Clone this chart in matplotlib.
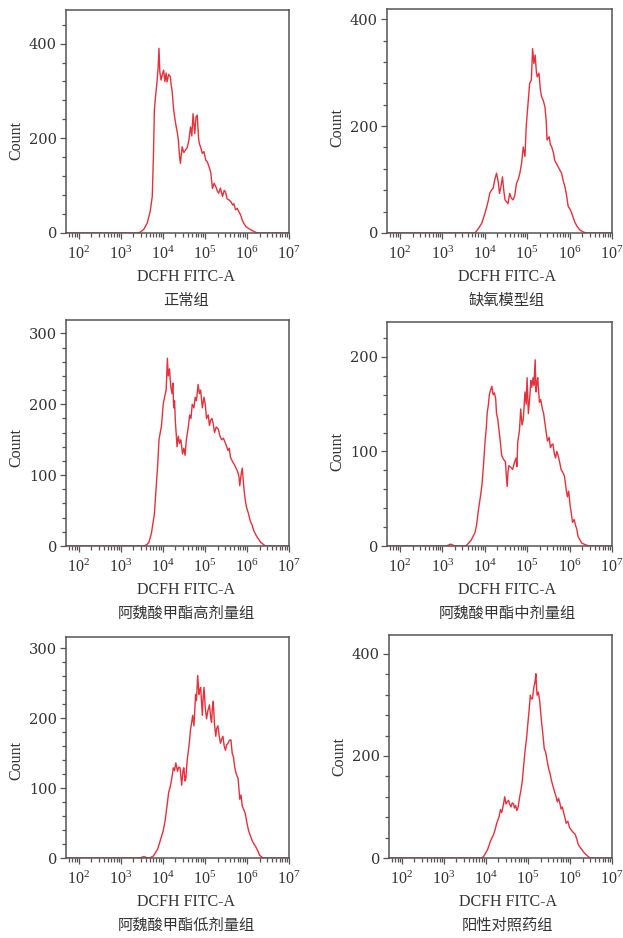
"""Flow cytometry DCFH histograms, six groups"""
import numpy as np
import matplotlib
matplotlib.use("Agg")
import matplotlib.pyplot as plt
from matplotlib.ticker import MultipleLocator, LogLocator, LogFormatterMathtext, NullFormatter

# log10(DCFH FITC-A) positions and counts
x_normal = [1.70, 3.40, 3.47, 3.55, 3.63, 3.70, 3.75, 3.78, 3.80, 3.83,
            3.86, 3.89, 3.91, 3.93, 3.96, 3.99, 4.02, 4.05, 4.08, 4.10,
            4.14, 4.18, 4.20, 4.22, 4.26, 4.29, 4.32, 4.35, 4.37, 4.40,
            4.42, 4.46, 4.50, 4.54, 4.58, 4.62, 4.66, 4.69, 4.72, 4.76,
            4.79, 4.82, 4.85, 4.87, 4.91, 4.94, 4.98, 5.02, 5.06, 5.10,
            5.14, 5.18, 5.22, 5.26, 5.30, 5.33, 5.37, 5.42, 5.46, 5.49,
            5.53, 5.57, 5.62, 5.66, 5.69, 5.73, 5.77, 5.81, 5.85, 5.89,
            5.93, 5.98, 6.05, 6.11, 6.17, 6.25, 7.00]
y_normal = [0, 0, 2, 8, 21, 45, 77, 170, 259, 290,
            316, 350, 390, 340, 323, 335, 344, 320, 338, 319,
            335, 330, 312, 302, 259, 240, 224, 210, 196, 160,
            147, 182, 170, 175, 180, 196, 224, 205, 252, 210,
            245, 249, 200, 189, 178, 168, 172, 154, 150, 140,
            128, 94, 105, 98, 88, 84, 95, 77, 90, 87,
            72, 70, 66, 59, 62, 49, 52, 45, 38, 27,
            20, 13, 9, 6, 3, 0, 0]

x_model = [1.70, 3.70, 3.77, 3.85, 3.93, 4.00, 4.05, 4.09, 4.12, 4.16,
           4.20, 4.24, 4.28, 4.32, 4.35, 4.38, 4.42, 4.45, 4.48, 4.52,
           4.55, 4.59, 4.63, 4.67, 4.71, 4.75, 4.79, 4.83, 4.87, 4.91,
           4.95, 4.98, 5.02, 5.06, 5.10, 5.13, 5.16, 5.19, 5.22, 5.24,
           5.28, 5.31, 5.34, 5.38, 5.42, 5.45, 5.47, 5.52, 5.55, 5.58,
           5.62, 5.65, 5.69, 5.73, 5.77, 5.81, 5.85, 5.89, 5.93, 5.97,
           6.01, 6.05, 6.09, 6.12, 6.18, 6.24, 6.32, 6.40, 7.00]
y_model = [0, 0, 0, 8, 18, 35, 49, 62, 74, 80,
           84, 100, 112, 96, 74, 85, 105, 80, 62, 58,
           55, 74, 65, 62, 70, 93, 100, 112, 130, 161,
           143, 200, 240, 280, 286, 345, 317, 333, 300, 292,
           299, 270, 255, 248, 236, 210, 174, 180, 165, 161,
           150, 136, 130, 124, 118, 112, 98, 87, 70, 49,
           45, 37, 28, 21, 12, 6, 2, 0, 0]

x_high = [1.70, 3.55, 3.62, 3.67, 3.73, 3.80, 3.84, 3.88, 3.91, 3.94,
          3.97, 4.01, 4.05, 4.08, 4.11, 4.13, 4.16, 4.19, 4.22, 4.24,
          4.26, 4.28, 4.30, 4.34, 4.37, 4.40, 4.43, 4.47, 4.50, 4.53,
          4.56, 4.60, 4.64, 4.67, 4.70, 4.74, 4.77, 4.80, 4.84, 4.87,
          4.90, 4.94, 4.98, 5.01, 5.04, 5.08, 5.11, 5.14, 5.17, 5.20,
          5.23, 5.27, 5.32, 5.36, 5.40, 5.44, 5.49, 5.52, 5.55, 5.58,
          5.61, 5.65, 5.70, 5.74, 5.78, 5.81, 5.83, 5.86, 5.89, 5.93,
          5.96, 5.99, 6.04, 6.08, 6.12, 6.16, 6.21, 6.25, 6.33, 6.44,
          7.00]
y_high = [0, 0, 2, 5, 18, 45, 80, 115, 150, 160,
          170, 200, 212, 220, 265, 240, 250, 225, 215, 230,
          195, 205, 175, 140, 155, 145, 150, 130, 138, 128,
          150, 165, 185, 180, 200, 195, 210, 205, 228, 215,
          220, 195, 210, 200, 180, 185, 170, 178, 180, 172,
          160, 168, 165, 155, 150, 152, 145, 140, 135, 138,
          125, 120, 115, 110, 105, 98, 85, 100, 110, 80,
          65, 55, 45, 35, 30, 22, 16, 12, 5, 0,
          0]

x_mid = [1.70, 3.10, 3.20, 3.30, 3.55, 3.60, 3.68, 3.77, 3.81, 3.85,
         3.90, 3.94, 3.98, 4.01, 4.04, 4.06, 4.09, 4.11, 4.14, 4.17,
         4.20, 4.23, 4.26, 4.28, 4.31, 4.34, 4.37, 4.40, 4.44, 4.49,
         4.51, 4.53, 4.55, 4.57, 4.62, 4.66, 4.70, 4.74, 4.76, 4.78,
         4.82, 4.85, 4.88, 4.91, 4.95, 4.98, 5.00, 5.03, 5.06, 5.09,
         5.11, 5.14, 5.16, 5.19, 5.21, 5.23, 5.25, 5.29, 5.32, 5.36,
         5.39, 5.42, 5.45, 5.48, 5.52, 5.55, 5.58, 5.61, 5.64, 5.67,
         5.70, 5.73, 5.77, 5.80, 5.84, 5.88, 5.92, 5.95, 5.98, 6.01,
         6.04, 6.07, 6.11, 6.14, 6.17, 6.20, 6.25, 6.29, 6.39, 6.47,
         7.00]
y_mid = [0, 0, 2, 0, 0, 2, 6, 14, 22, 37,
         52, 66, 90, 111, 125, 141, 150, 160, 165, 169,
         160, 162, 156, 140, 134, 122, 110, 96, 92, 89,
         75, 63, 78, 85, 83, 81, 88, 93, 84, 110,
         122, 145, 128, 134, 163, 150, 178, 140, 156, 175,
         168, 178, 170, 197, 163, 172, 178, 152, 155, 145,
         140, 130, 120, 111, 115, 104, 107, 108, 98, 93,
         100, 96, 88, 81, 78, 74, 60, 52, 58, 44,
         35, 25, 28, 22, 18, 10, 6, 3, 1, 0,
         0]

x_low = [1.70, 3.45, 3.55, 3.65, 3.72, 3.78, 3.83, 3.88, 3.94, 4.01,
         4.06, 4.10, 4.14, 4.17, 4.20, 4.23, 4.25, 4.28, 4.31, 4.35,
         4.38, 4.41, 4.45, 4.48, 4.50, 4.53, 4.55, 4.58, 4.61, 4.64,
         4.66, 4.69, 4.71, 4.74, 4.76, 4.78, 4.80, 4.83, 4.86, 4.88,
         4.90, 4.92, 4.94, 4.96, 4.98, 5.01, 5.04, 5.07, 5.11, 5.14,
         5.16, 5.18, 5.20, 5.23, 5.26, 5.28, 5.31, 5.34, 5.37, 5.40,
         5.43, 5.46, 5.49, 5.52, 5.55, 5.58, 5.62, 5.65, 5.68, 5.71,
         5.73, 5.76, 5.79, 5.83, 5.86, 5.89, 5.92, 5.96, 6.00, 6.04,
         6.08, 6.13, 6.17, 6.21, 6.26, 6.30, 6.38, 7.00]
y_low = [0, 0, 2, 0, 1, 3, 8, 13, 25, 39,
         55, 74, 94, 100, 109, 120, 129, 125, 136, 124,
         130, 129, 104, 125, 129, 110, 114, 140, 154, 170,
         184, 195, 204, 189, 210, 234, 225, 261, 234, 240,
         244, 225, 204, 230, 244, 215, 199, 210, 219, 200,
         194, 215, 224, 190, 174, 185, 189, 175, 164, 170,
         174, 160, 154, 162, 164, 168, 169, 150, 144, 130,
         124, 118, 114, 84, 90, 74, 70, 64, 50, 39,
         32, 24, 20, 16, 10, 4, 0, 0]

x_positive = [1.70, 3.88, 3.94, 4.00, 4.04, 4.08, 4.11, 4.15, 4.19, 4.22,
              4.26, 4.29, 4.32, 4.35, 4.38, 4.42, 4.45, 4.48, 4.51, 4.54,
              4.57, 4.60, 4.63, 4.66, 4.68, 4.71, 4.74, 4.77, 4.80, 4.84,
              4.87, 4.90, 4.93, 4.97, 5.00, 5.03, 5.06, 5.08, 5.11, 5.14,
              5.17, 5.19, 5.21, 5.22, 5.25, 5.28, 5.30, 5.33, 5.36, 5.39,
              5.42, 5.44, 5.47, 5.50, 5.53, 5.56, 5.60, 5.63, 5.67, 5.70,
              5.73, 5.76, 5.79, 5.82, 5.85, 5.88, 5.91, 5.95, 5.99, 6.04,
              6.08, 6.12, 6.16, 6.20, 6.25, 6.29, 6.34, 6.39, 6.48, 7.00]
y_positive = [0, 0, 2, 10, 16, 25, 33, 40, 47, 55,
              68, 75, 82, 95, 89, 105, 120, 106, 110, 113,
              105, 100, 108, 106, 98, 103, 93, 100, 117, 135,
              152, 180, 207, 235, 263, 290, 319, 312, 312, 333,
              345, 361, 330, 319, 325, 308, 290, 263, 240, 214,
              208, 200, 185, 173, 165, 152, 140, 131, 120, 110,
              117, 108, 96, 100, 89, 80, 68, 72, 60, 54,
              50, 47, 38, 26, 20, 16, 10, 6, 0, 0]

titles = ["正常组", "缺氧模型组", "阿魏酸甲酯高剂量组",
          "阿魏酸甲酯中剂量组", "阿魏酸甲酯低剂量组", "阳性对照药组"]
y_tops = [471, 419, 319, 237, 316, 437]
y_major = [200, 200, 100, 100, 100, 200]
y_minor = [40, 40, 20, 20, 20, 40]
count_pos = [0.417, 0.47, 0.434, 0.42, 0.443, 0.457]

RED = "#e8303a"
TEXT = "#333333"
SPINE = "#555555"
SERIF = "Liberation Serif"
CJK = ["Noto Sans CJK SC", "DejaVu Sans"]

W, H = 623, 938
# axes boxes in pixels: left, top, right, bottom
boxes = [(66, 10, 289, 233), (387, 9, 612, 233),
         (66, 320, 289, 546), (387, 322, 612, 546),
         (66, 637, 289, 858), (389, 635, 612, 858)]


def plot_histogram(fig, box, x, y, ymax, major, minor, title, count_y, right_col):
    """Plot one count histogram on a log x axis"""
    l, t, r, b = box
    ax = fig.add_axes([l / W, 1 - b / H, (r - l) / W, (b - t) / H])
    ax.plot(np.power(10.0, x), y, color=RED, lw=1.0)
    ax.set_xscale("log")
    ax.set_xlim(10 ** 1.7, 1e7)
    ax.set_ylim(0, ymax)

    ax.xaxis.set_major_locator(LogLocator(base=10, numticks=10))
    ax.xaxis.set_minor_locator(LogLocator(base=10, subs=np.arange(2, 10), numticks=20))
    ax.xaxis.set_major_formatter(LogFormatterMathtext())
    ax.xaxis.set_minor_formatter(NullFormatter())
    ax.yaxis.set_major_locator(MultipleLocator(major))
    ax.yaxis.set_minor_locator(MultipleLocator(minor))

    for s in ax.spines.values():
        s.set_color(SPINE)
        s.set_linewidth(1.1)
    ax.tick_params(which="both", direction="out", color=SPINE, width=0.9)
    ax.tick_params(which="major", length=4.5)
    ax.tick_params(which="minor", length=3)
    ax.tick_params(axis="x", which="major", pad=5, labelsize=11.5,
                   labelcolor=TEXT, labelfontfamily=SERIF)
    ax.tick_params(axis="y", which="major", pad=2, labelsize=10.5,
                   labelcolor=TEXT, labelfontfamily="DejaVu Serif")

    xc = 0.533 if right_col else 0.538
    ax.annotate("DCFH FITC-A", xy=(xc, 0), xycoords="axes fraction",
                xytext=(0, -44 * 0.72), textcoords="offset points",
                ha="center", va="center", fontsize=11.5, family=SERIF, color=TEXT)
    ax.annotate(title, xy=(xc, 0), xycoords="axes fraction",
                xytext=(0, -67 * 0.72), textcoords="offset points",
                ha="center", va="center", fontsize=11, family=CJK, color=TEXT)
    ax.annotate("Count", xy=(0, count_y), xycoords="axes fraction",
                xytext=(-50 * 0.72, 0), textcoords="offset points",
                ha="center", va="center", rotation=90, fontsize=11.5,
                family=SERIF, color=TEXT)
    return ax


fig = plt.figure(figsize=(W / 100, H / 100), dpi=100)
series = [(x_normal, y_normal), (x_model, y_model), (x_high, y_high),
          (x_mid, y_mid), (x_low, y_low), (x_positive, y_positive)]
for i, (x, y) in enumerate(series):
    plot_histogram(fig, boxes[i], x, y, y_tops[i], y_major[i], y_minor[i],
                   titles[i], count_pos[i], i % 2 == 1)

fig.savefig("out.png", dpi=100)
